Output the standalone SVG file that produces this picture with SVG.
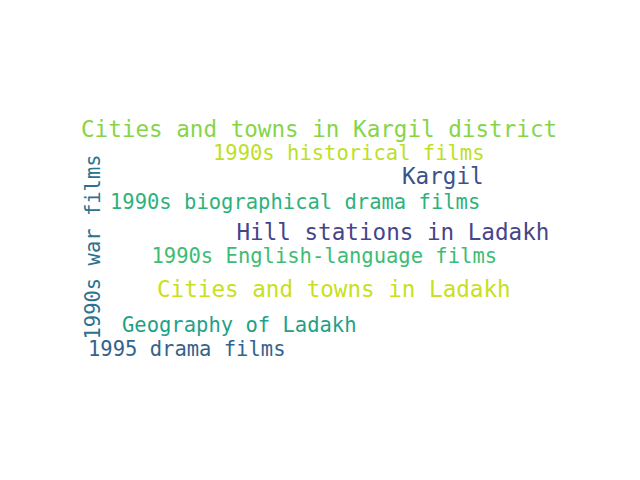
<svg xmlns="http://www.w3.org/2000/svg" width="640" height="480" viewBox="0 0 640 480">
<style>
text { font-family: "DejaVu Sans Mono", "Liberation Mono", monospace; }
.big { font-size: 22.6px; }
.small { font-size: 20.5px; }
</style>
<rect width="640" height="480" fill="#ffffff"/>
<g id="w1"><text class="big" x="81" y="137" fill="#86d549">Cities and towns in Kargil district</text></g>
<g id="w2"><text class="small" x="213" y="160" fill="#bddf26">1990s historical films</text></g>
<g id="w3"><text class="big" x="402" y="184" fill="#3b528b">Kargil</text></g>
<g id="w4"><text class="small" x="110" y="209" fill="#2db27d">1990s biographical drama films</text></g>
<g id="w5"><text class="big" x="236.5" y="240" fill="#46448a">Hill stations in Ladakh</text></g>
<g id="w6"><text class="small" x="151.5" y="262.5" fill="#3dbc74">1990s English-language films</text></g>
<g id="w7"><text class="big" x="157" y="297" fill="#c8e020">Cities and towns in Ladakh</text></g>
<g id="w8"><text class="small" x="122" y="331.5" fill="#1fa187">Geography of Ladakh</text></g>
<g id="w9"><text class="small" x="88" y="355.5" fill="#33638d">1995 drama films</text></g>
<g id="w10"><text class="small" transform="translate(100,339.5) rotate(-90)" fill="#2c728e">1990s war films</text></g>
</svg>
